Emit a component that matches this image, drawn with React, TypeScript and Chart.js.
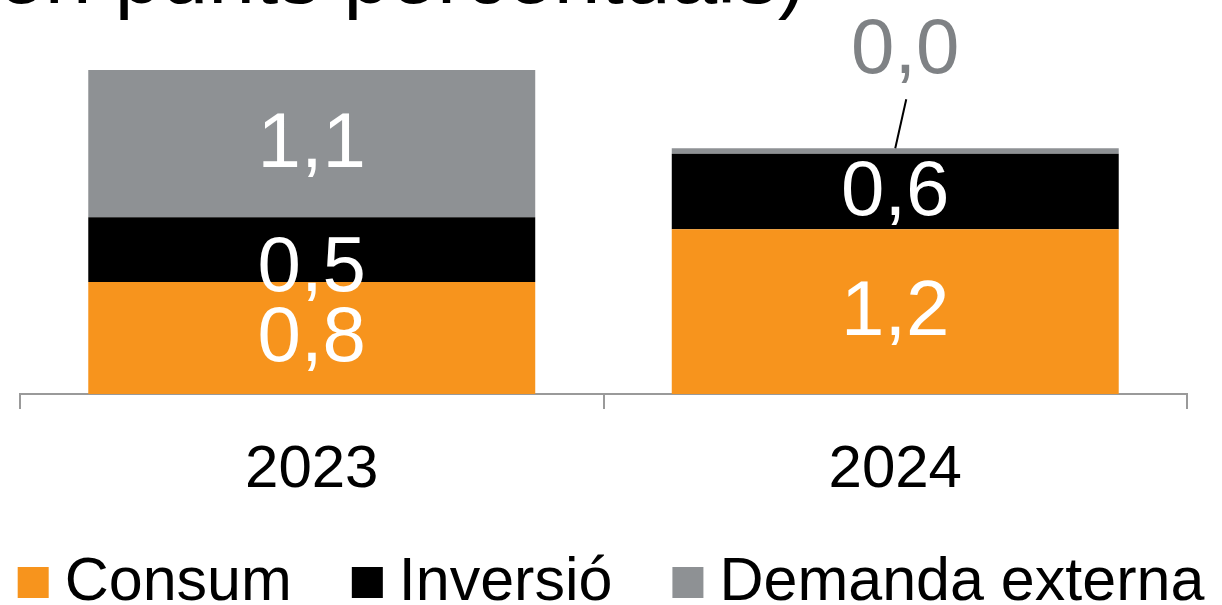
import React, { useEffect, useRef } from "react";
import { Chart, registerables } from "chart.js";

Chart.register(...registerables);

// ---- Data ----
const categories = ["2023", "2024"];
const consum = [0.83, 1.22];
const inversio = [0.48, 0.56];
const demandaExterna = [1.09, 0.04];
const seriesNames = ["Consum", "Inversió", "Demanda externa"];
const titleText = "(en punts percentuals)";
const yMin = 0;
const yMax = 2.4;

// ---- Styles ----
const COLORS = ["#F7941D", "#000000", "#8E9194"];
const FONT = "'Liberation Sans', Arial, Helvetica, sans-serif";
const AXIS_COLOR = "#9A9A9A";

const fmt = (v: number) => v.toFixed(1).replace(".", ",");

const titlePlugin = {
  id: "cutTitle",
  afterDraw(chart: any) {
    const ctx = chart.ctx;
    ctx.save();
    ctx.font = `84px ${FONT}`;
    ctx.fillStyle = "#000000";
    ctx.textAlign = "left";
    ctx.textBaseline = "alphabetic";
    ctx.fillText(titleText, -30, 3);
    ctx.restore();
  },
};

const segLabelPlugin = {
  id: "segLabels",
  afterDatasetsDraw(chart: any) {
    const ctx = chart.ctx;
    ctx.save();
    ctx.font = `78px ${FONT}`;
    ctx.textAlign = "center";
    ctx.textBaseline = "middle";
    chart.data.datasets.forEach((ds: any, di: number) => {
      const meta = chart.getDatasetMeta(di);
      meta.data.forEach((el: any, i: number) => {
        const v = ds.data[i] as number;
        const { x, y, base } = el.getProps(["x", "y", "base"], true);
        const h = base - y;
        const text = fmt(v);
        if (h < 20) {
          ctx.strokeStyle = "#000000";
          ctx.lineWidth = 2;
          ctx.beginPath();
          ctx.moveTo(x, y);
          ctx.lineTo(x + 11, y - 49);
          ctx.stroke();
          ctx.fillStyle = "#7F8285";
          ctx.fillText(text, x + 10, y - 97);
        } else {
          ctx.fillStyle = "#FFFFFF";
          const nudge = di === 1 && i === 0 ? 18 : 0;
          ctx.fillText(text, x, (y + base) / 2 + nudge + 2);
        }
      });
    });
    ctx.restore();
  },
};

const legendPlugin = {
  id: "bottomLegend",
  afterDraw(chart: any) {
    const ctx = chart.ctx;
    const box = 31;
    const gapBoxText = 16;
    const gapItems = 60;
    ctx.save();
    ctx.font = `61px ${FONT}`;
    ctx.textAlign = "left";
    ctx.textBaseline = "alphabetic";
    const items = chart.data.datasets.map((ds: any) => ({
      label: ds.label as string,
      color: ds.backgroundColor as string,
      w: ctx.measureText(ds.label).width,
    }));
    const total =
      items.reduce((s: number, it: any) => s + box + gapBoxText + it.w, 0) +
      gapItems * (items.length - 1);
    let x = chart.width / 2 - total / 2;
    const boxTop = 567;
    const baseline = 600;
    items.forEach((it: any) => {
      ctx.fillStyle = it.color;
      ctx.fillRect(x, boxTop, box, box);
      ctx.fillStyle = "#000000";
      ctx.fillText(it.label, x + box + gapBoxText, baseline);
      x += box + gapBoxText + it.w + gapItems;
    });
    ctx.restore();
  },
};

export default function App() {
  const canvasRef = useRef<HTMLCanvasElement | null>(null);

  useEffect(() => {
    if (!canvasRef.current) return;
    const chart = new Chart(canvasRef.current, {
      type: "bar",
      data: {
        labels: categories,
        datasets: [
          { label: seriesNames[0], data: consum, backgroundColor: COLORS[0] },
          { label: seriesNames[1], data: inversio, backgroundColor: COLORS[1] },
          { label: seriesNames[2], data: demandaExterna, backgroundColor: COLORS[2] },
        ],
      },
      options: {
        responsive: true,
        maintainAspectRatio: false,
        animation: false,
        devicePixelRatio: 1,
        layout: { padding: { left: 20, right: 35, top: 70, bottom: 74 } },
        datasets: {
          bar: { categoryPercentage: 1, barPercentage: 0.766, borderWidth: 0 },
        },
        plugins: {
          legend: { display: false },
          tooltip: { enabled: false },
          title: { display: false },
        },
        scales: {
          x: {
            stacked: true,
            offset: true,
            grid: {
              display: true,
              offset: true,
              drawOnChartArea: false,
              drawTicks: true,
              tickLength: 15,
              color: AXIS_COLOR,
              lineWidth: 2,
            },
            border: { display: true, color: AXIS_COLOR, width: 2 },
            ticks: {
              color: "#000000",
              font: { family: FONT, size: 60 },
              padding: 25,
              maxRotation: 0,
            },
          },
          y: {
            stacked: true,
            display: false,
            min: yMin,
            max: yMax,
          },
        },
      },
      plugins: [segLabelPlugin, titlePlugin, legendPlugin],
    } as any);
    return () => chart.destroy();
  }, []);

  return (
    <div
      style={{
        position: "fixed",
        left: 0,
        top: 0,
        width: 1222,
        height: 605,
        background: "#FFFFFF",
      }}
    >
      <canvas ref={canvasRef} />
    </div>
  );
}
